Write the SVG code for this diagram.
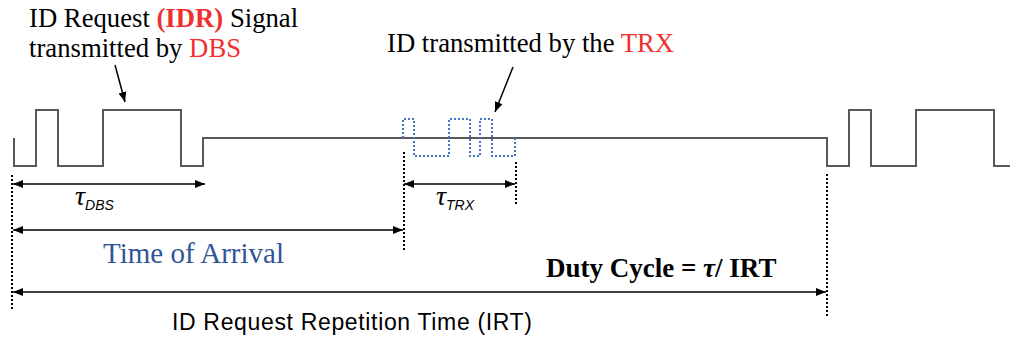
<svg xmlns="http://www.w3.org/2000/svg" width="1010" height="338" viewBox="0 0 1010 338">
<defs>
<marker id="ah" viewBox="0 0 10 8" refX="10" refY="4" markerWidth="10" markerHeight="8" markerUnits="userSpaceOnUse" orient="auto-start-reverse">
<path d="M0,0 L10,4 L0,8 Z" fill="#000"/>
</marker>
<style>
.sig{fill:none;stroke:#595959;stroke-width:2}
.trx{fill:none;stroke:#4472C4;stroke-width:2;stroke-dasharray:2 2}
.vd{fill:none;stroke:#000;stroke-width:2;stroke-dasharray:2 2}
.dim{fill:none;stroke:#000;stroke-width:1.5}
.ptr{fill:none;stroke:#000;stroke-width:1.5}
.serif{font-family:"Liberation Serif","Times New Roman",serif;fill:#000}
.red{fill:#F03030}
.sans{font-family:"Liberation Sans",Arial,sans-serif;fill:#000}
</style>
</defs>
<rect width="1010" height="338" fill="#fff"/>
<g id="signal-dbs">
<path class="sig" d="M14,138 V166 H36 V110 H58 V166 H103 V110 H181 V166 H203 V138 H827 V166 H849 V110 H871 V166 H916 V110 H994 V166 H1010"/>
</g>
<g id="signal-trx">
<path class="trx" d="M403,138 V119 H414 V156 H449 V119 H470 V156 H480 V119 H492 V156 H515 V138"/>
</g>
<g id="markers">
<line class="vd" x1="12" y1="175" x2="12" y2="310"/>
<line class="vd" x1="404" y1="152" x2="404" y2="252"/>
<line class="vd" x1="516" y1="162" x2="516" y2="206"/>
<line class="vd" x1="827" y1="174" x2="827" y2="316"/>
</g>
<g id="connectors">
<line class="dim" x1="13" y1="184" x2="205" y2="184" marker-start="url(#ah)" marker-end="url(#ah)"/>
<line class="dim" x1="404" y1="184" x2="515" y2="184" marker-start="url(#ah)" marker-end="url(#ah)"/>
<line class="dim" x1="13" y1="230" x2="403" y2="230" marker-start="url(#ah)" marker-end="url(#ah)"/>
<line class="dim" x1="13" y1="292" x2="826" y2="292" marker-start="url(#ah)" marker-end="url(#ah)"/>
<line class="ptr" x1="115" y1="65" x2="125" y2="102" marker-end="url(#ah)"/>
<line class="ptr" x1="513" y1="67" x2="495" y2="112" marker-end="url(#ah)"/>
</g>
<g id="label-idr">
<text class="serif" x="29" y="27" font-size="26.7">ID Request <tspan class="red" font-weight="bold">(IDR)</tspan> Signal</text>
<text class="serif" x="29" y="57" font-size="26.7">transmitted by <tspan class="red">DBS</tspan></text>
</g>
<g id="label-trx">
<text class="serif" x="387" y="52" font-size="26.7">ID transmitted by the <tspan class="red">TRX</tspan></text>
</g>
<g id="label-tau-dbs">
<text x="75" y="205"><tspan class="serif" font-style="italic" font-size="28">τ</tspan><tspan class="sans" font-style="italic" font-size="14" dy="5">DBS</tspan></text>
</g>
<g id="label-tau-trx">
<text x="436" y="205"><tspan class="serif" font-style="italic" font-size="28">τ</tspan><tspan class="sans" font-style="italic" font-size="14" dy="5">TRX</tspan></text>
</g>
<g id="label-toa">
<text class="serif" x="103" y="263" font-size="29" style="fill:#2F5597">Time of Arrival</text>
</g>
<g id="label-duty">
<text class="serif" x="546" y="277" font-size="27" font-weight="bold">Duty Cycle = <tspan font-style="italic">τ</tspan>/ IRT</text>
</g>
<g id="label-irt">
<text class="sans" x="172" y="330" font-size="23" textLength="360" lengthAdjust="spacing">ID Request Repetition Time (IRT)</text>
</g>
</svg>
